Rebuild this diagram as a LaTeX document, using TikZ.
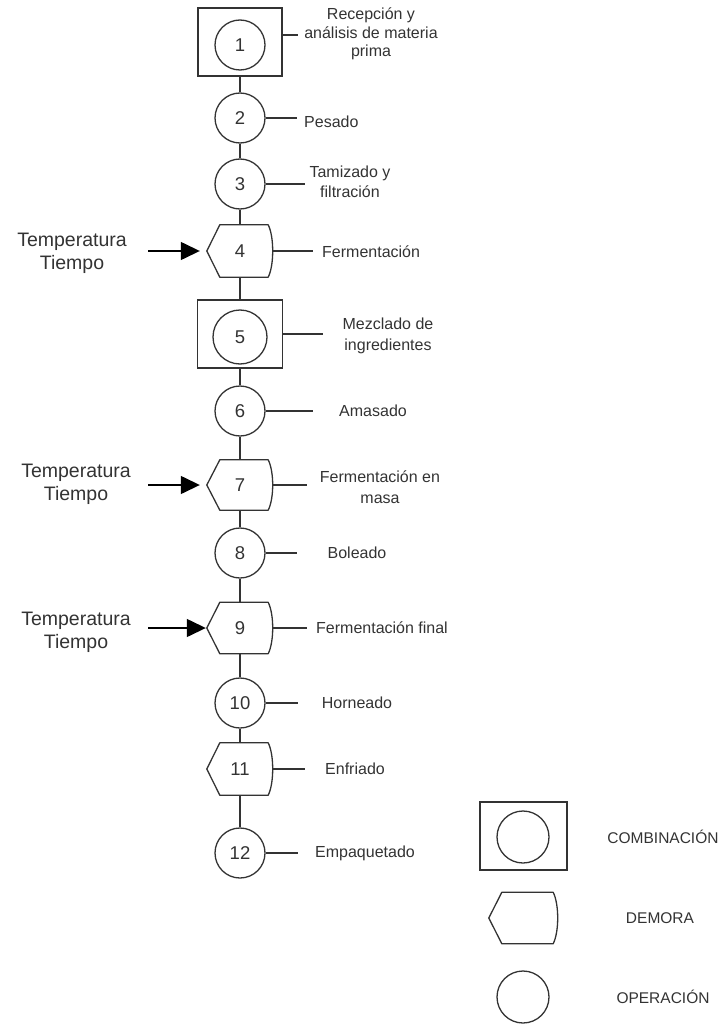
\documentclass[tikz,border=0pt]{standalone}
\usepackage{fontspec}
\setmainfont{Liberation Sans}
\usetikzlibrary{arrows.meta}
\definecolor{ink}{HTML}{333333}
\tikzset{
  op/.style={circle,draw=ink,line width=1.3pt,minimum size=50pt,inner sep=0pt,font=\fontsize{18.5}{20}\selectfont},
  combo/.style={rectangle,draw=ink,line width=1.6pt,minimum width=84pt,minimum height=68pt,inner sep=0pt},
  hexbox/.style={rectangle,minimum width=66pt,inner sep=0pt,font=\fontsize{18.5}{20}\selectfont},
  hexline/.style={draw=ink,line width=1.3pt,line join=round},
  link/.style={draw=ink,line width=1.3pt},
  lab/.style={font=\fontsize{16}{20.5}\selectfont,text=ink,align=center,inner sep=0pt},
  leftlab/.style={font=\fontsize{19.5}{23}\selectfont,text=ink,align=center,inner sep=0pt},
  leglab/.style={font=\fontsize{15.5}{18}\selectfont,text=ink,inner sep=0pt},
  inarrow/.style={draw=black,line width=1.4pt,-{Triangle[length=19pt,width=18pt]}},
}
\newcommand{\hexdraw}[1]{%
  \draw[hexline] (#1.west) -- ([xshift=13pt]#1.north west) -- ([xshift=-5pt]#1.north east)
    .. controls ([xshift=1pt,yshift=-12pt]#1.north east) and ([xshift=1pt,yshift=12pt]#1.south east) .. ([xshift=-5pt]#1.south east)
    -- ([xshift=13pt]#1.south west) -- cycle;}
\begin{document}
\begin{tikzpicture}[x=1pt,y=-1pt,text=ink]
\useasboundingbox (0,0) rectangle (725,1027);
% main shapes
\node[combo] (c1) at (240,42) {};
\node[op] (n1) at (240,45) {1};
\node[op] (n2) at (240,118) {2};
\node[op] (n3) at (240,184) {3};
\node[hexbox,minimum height=52pt] (n4) at (240,251) {4};
\node[combo,minimum width=85pt] (c5) at (240,334) {};
\node[op,minimum size=54pt] (n5) at (240,337) {5};
\node[op] (n6) at (240,411) {6};
\node[hexbox,minimum height=50pt] (n7) at (240,485) {7};
\node[op] (n8) at (240,553) {8};
\node[hexbox,minimum height=51pt] (n9) at (240,628) {9};
\node[op] (n10) at (240,703) {10};
\node[hexbox,minimum height=52pt] (n11) at (240,769) {11};
\node[op] (n12) at (240,853) {12};
\hexdraw{n4}\hexdraw{n7}\hexdraw{n9}\hexdraw{n11}
% vertical connectors
\draw[link] (c1.south) -- (n2.north);
\draw[link] (n2.south) -- (n3.north);
\draw[link] (n3.south) -- (n4.north);
\draw[link] (n4.south) -- (c5.north);
\draw[link] (c5.south) -- (n6.north);
\draw[link] (n6.south) -- (n7.north);
\draw[link] (n7.south) -- (n8.north);
\draw[link] (n8.south) -- (n9.north);
\draw[link] (n9.south) -- (n10.north);
\draw[link] (n10.south) -- (n11.north);
\draw[link] (n11.south) -- (n12.north);
% labels
\node[lab] (l1) at (371,34) {Recepción y\\[-2pt]análisis de materia\\[-2pt]prima};
\node[lab,anchor=west] (l2) at (304,122) {Pesado};
\node[lab] (l3) at (350,182) {Tamizado y\\filtración};
\node[lab,anchor=west] (l4) at (322,252) {Fermentación};
\node[lab] (l5) at (388,336) {Mezclado de\\ingredientes};
\node[lab] (l6) at (373,411) {Amasado};
\node[lab] (l7) at (380,487) {Fermentación en\\masa};
\node[lab] (l8) at (357,553) {Boleado};
\node[lab] (l9) at (382,628) {Fermentación final};
\node[lab] (l10) at (357,703) {Horneado};
\node[lab] (l11) at (355,769) {Enfriado};
\node[lab] (l12) at (365,853) {Empaquetado};
% label tick lines
\coordinate (e1) at (298,35);
\coordinate (e2) at (297,118);
\coordinate (e3) at (305,184);
\coordinate (e4) at (313,251);
\coordinate (e5) at (323,334);
\coordinate (e6) at (313,411);
\coordinate (e7) at (307,485);
\coordinate (e8) at (297,553);
\coordinate (e9) at (307,628);
\coordinate (e10) at (298,703);
\coordinate (e11) at (305,769);
\coordinate (e12) at (298,853);
\draw[link] (c1.east |- e1) -- (e1);
\draw[link] (n2.east) -- (e2);
\draw[link] (n3.east) -- (e3);
\draw[link] ([xshift=-1pt]n4.east) -- (e4);
\draw[link] (c5.east) -- (e5);
\draw[link] (n6.east) -- (e6);
\draw[link] ([xshift=-1pt]n7.east) -- (e7);
\draw[link] (n8.east) -- (e8);
\draw[link] ([xshift=-1pt]n9.east) -- (e9);
\draw[link] (n10.east) -- (e10);
\draw[link] ([xshift=-1pt]n11.east) -- (e11);
\draw[link] (n12.east) -- (e12);
% inputs
\node[leftlab] (t4) at (72,253) {Temperatura\\Tiempo};
\node[leftlab] (t7) at (76,484) {Temperatura\\Tiempo};
\node[leftlab] (t9) at (76,632) {Temperatura\\Tiempo};
\coordinate (a4) at (148,251);
\coordinate (a7) at (148,485);
\coordinate (a9) at (148,628);
\draw[inarrow,shorten >=7pt] (a4) -- (n4.west);
\draw[inarrow,shorten >=7pt] (a7) -- (n7.west);
\draw[inarrow,shorten >=1pt] (a9) -- (n9.west);
% legend
\node[combo,minimum width=87pt] (gc) at (523.5,836) {};
\node[op,minimum size=52pt] (gco) at (523,837) {};
\node[hexbox,minimum width=69pt,minimum height=51pt] (gh) at (523.5,918) {};
\hexdraw{gh}
\node[op,minimum size=52pt] (go) at (523,997) {};
\node[leglab] (gl1) at (663,837) {COMBINACIÓN};
\node[leglab] (gl2) at (660,918) {DEMORA};
\node[leglab] (gl3) at (663,997) {OPERACIÓN};
\end{tikzpicture}
\end{document}
